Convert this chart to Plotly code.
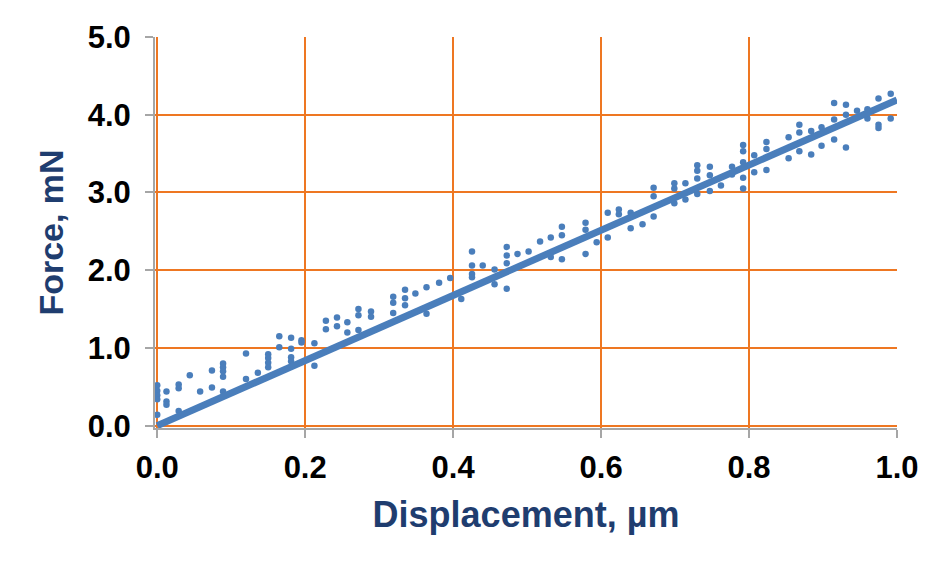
import plotly.graph_objects as go

displacement = (
    [0.0] * 5 + [0.0125] * 3 + [0.029] * 3 + [0.044] + [0.058] + [0.074] * 2
    + [0.089] * 5 + [0.12] * 2 + [0.136] + [0.15] * 4 + [0.165] * 2
    + [0.181] * 4 + [0.195] * 2 + [0.2125] * 2 + [0.228] * 2 + [0.243] * 2
    + [0.257] * 2 + [0.272] * 3 + [0.289] * 2 + [0.319] * 3 + [0.335] * 3
    + [0.349] + [0.364] * 2 + [0.381] + [0.396] + [0.411] + [0.4255] * 4
    + [0.44] + [0.456] * 2 + [0.4725] * 4 + [0.487] + [0.502] + [0.5175]
    + [0.532] * 2 + [0.547] * 3 + [0.579] * 3 + [0.594] + [0.609] * 2
    + [0.624] * 2 + [0.64] * 2 + [0.656] + [0.671] * 3 + [0.699] * 3
    + [0.714] * 2 + [0.73] * 4 + [0.747] * 3 + [0.762] + [0.777] * 2
    + [0.792] * 5 + [0.807] * 2 + [0.8235] * 3 + [0.8535] * 2 + [0.868] * 3
    + [0.884] * 2 + [0.898] * 2 + [0.915] * 3 + [0.931] * 3 + [0.946]
    + [0.96] * 2 + [0.975] * 3 + [0.9915] * 2
)
force = [
    0.52, 0.45, 0.39, 0.34, 0.14,
    0.44, 0.31, 0.27,
    0.53, 0.48, 0.19,
    0.65,
    0.44,
    0.71, 0.49,
    0.80, 0.75, 0.70, 0.63, 0.44,
    0.93, 0.60,
    0.68,
    0.92, 0.87, 0.81, 0.75,
    1.15, 1.01,
    1.13, 0.99, 0.88, 0.83,
    1.10, 1.07,
    1.06, 0.77,
    1.35, 1.24,
    1.39, 1.28,
    1.33, 1.20,
    1.50, 1.42, 1.23,
    1.47, 1.40,
    1.66, 1.58, 1.45,
    1.75, 1.64, 1.55,
    1.70,
    1.78, 1.44,
    1.84,
    1.90,
    1.63,
    2.24, 2.06, 1.95, 1.91,
    2.06,
    2.01, 1.82,
    2.30, 2.19, 2.09, 1.76,
    2.21,
    2.24,
    2.37,
    2.42, 2.17,
    2.56, 2.45, 2.14,
    2.61, 2.52, 2.21,
    2.36,
    2.74, 2.42,
    2.78, 2.72,
    2.74, 2.54,
    2.59,
    3.06, 2.95, 2.69,
    3.12, 3.05, 2.86,
    3.12, 2.91,
    3.35, 3.28, 3.18, 2.98,
    3.33, 3.22, 3.02,
    3.09,
    3.33, 3.23,
    3.61, 3.53, 3.39, 3.19, 3.05,
    3.48, 3.26,
    3.65, 3.56, 3.29,
    3.71, 3.44,
    3.87, 3.77, 3.53,
    3.79, 3.49,
    3.84, 3.60,
    4.15, 3.94, 3.68,
    4.13, 4.00, 3.58,
    4.05,
    4.07, 3.95,
    4.21, 3.87, 3.83,
    4.27, 3.95,
]

# linear fit endpoints
fit_x = [0.0, 1.0]
fit_y = [0.0, 4.19]

blue = "#4A7EBB"
title_col = "#1F3D6F"
grid_col = "#EE7722"

fig = go.Figure()

fig.add_trace(go.Scatter(
    x=displacement, y=force,
    mode="markers",
    marker=dict(size=6.5, color=blue),
    showlegend=False,
))

fig.add_trace(go.Scatter(
    x=fit_x, y=fit_y,
    mode="lines",
    line=dict(color=blue, width=7),
    showlegend=False,
))

axis_common = dict(
    showline=True, linecolor="#A6A6A6", linewidth=2,
    ticks="outside", ticklen=8, tickcolor="#A6A6A6", tickwidth=2,
    showgrid=True, gridcolor=grid_col, gridwidth=2,
    zeroline=False,
    tickformat=".1f",
    tickfont=dict(family="Liberation Sans", size=31, color="black", weight="bold"),
)

# page has an 8px body margin, so margins are shifted to match
fig.update_layout(
    width=950, height=571,
    margin=dict(l=147, r=61, t=22, b=151),
    plot_bgcolor="white", paper_bgcolor="white",
    xaxis=dict(
        range=[-0.003, 1.0], dtick=0.2, tick0=0,
        ticklabelstandoff=3,
        title=dict(text="Displacement, µm", standoff=18,
                   font=dict(family="Liberation Sans", size=36, color=title_col, weight="bold")),
        **axis_common,
    ),
    yaxis=dict(
        range=[-0.03, 5.0], dtick=1.0, tick0=0,
        ticklabelstandoff=8,
        title=dict(text="Force, mN", standoff=14,
                   font=dict(family="Liberation Sans", size=34, color=title_col, weight="bold")),
        **axis_common,
    ),
)

fig.write_html("out.html")
